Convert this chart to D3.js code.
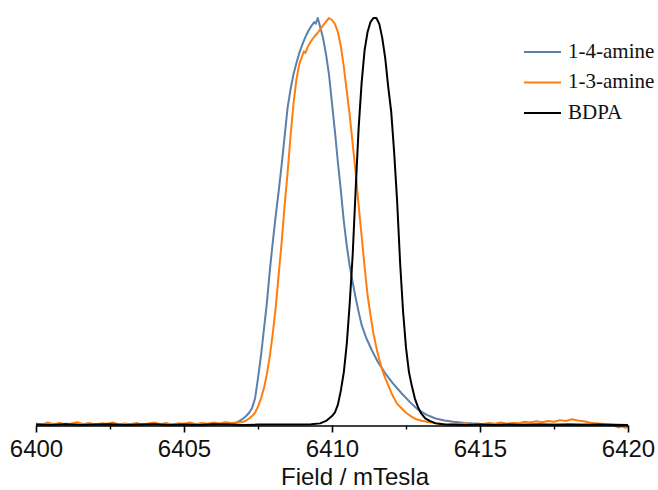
<!DOCTYPE html>
<html>
<head>
<meta charset="utf-8">
<script src="https://cdn.jsdelivr.net/npm/d3@7"></script>
<style>
  html, body { margin: 0; padding: 0; background: #fff; }
  svg { display: block; }
</style>
</head>
<body>
<svg id="chart" width="658" height="490"></svg>
<script>
// ---------------- DATA ----------------
const seriesNames = ["1-4-amine", "1-3-amine", "BDPA"];
const majorTicks = [6400, 6405, 6410, 6415, 6420];
const minorTicks = [6402.5, 6407.5, 6412.5, 6417.5];
const xTitle = "Field / mTesla";

// 1-4-amine : [field (mT), normalised intensity]
const amine14 = [
  [6400.0,0.002],[6400.5,0.001],[6401.0,0.003],[6401.5,0.001],[6402.0,0.002],[6402.5,0.000],
  [6403.0,0.002],[6403.5,0.001],[6404.0,0.003],[6404.5,0.001],[6405.0,0.002],[6405.5,0.001],
  [6406.0,0.002],[6406.5,0.003],[6406.7,0.004],[6406.85,0.009],[6407.0,0.016],[6407.1,0.022],
  [6407.2,0.030],[6407.3,0.042],[6407.4,0.065],[6407.5,0.115],[6407.6,0.170],[6407.7,0.235],
  [6407.8,0.300],[6407.9,0.380],[6408.0,0.450],[6408.1,0.515],[6408.2,0.575],[6408.3,0.640],
  [6408.4,0.710],[6408.5,0.780],[6408.6,0.825],[6408.7,0.862],[6408.8,0.890],[6408.9,0.915],
  [6409.0,0.935],[6409.1,0.953],[6409.2,0.968],[6409.3,0.980],[6409.4,0.990],[6409.45,0.986],
  [6409.52,1.000],[6409.6,0.978],[6409.7,0.950],[6409.8,0.910],[6409.9,0.860],[6410.0,0.790],
  [6410.1,0.720],[6410.2,0.645],[6410.3,0.575],[6410.4,0.500],[6410.5,0.440],[6410.6,0.390],
  [6410.7,0.350],[6410.8,0.312],[6410.9,0.278],[6411.0,0.246],[6411.15,0.215],[6411.35,0.183],
  [6411.55,0.155],[6411.8,0.127],[6412.05,0.103],[6412.35,0.078],[6412.65,0.055],[6412.92,0.037],
  [6413.2,0.025],[6413.5,0.016],[6413.8,0.011],[6414.1,0.008],[6414.5,0.005],[6414.9,0.003],
  [6415.3,0.002],[6415.8,0.001],[6416.5,0.002],[6417.0,0.001],[6417.5,0.002],[6418.0,0.001],
  [6418.5,0.002],[6419.0,0.001],[6419.5,0.001],[6420.0,0.000]
];

// 1-3-amine : [field (mT), normalised intensity]
const amine13 = [
  [6400.0,0.004],[6400.2,0.001],[6400.4,0.006],[6400.6,0.002],[6400.8,0.005],[6401.0,0.000],
  [6401.2,0.004],[6401.4,0.007],[6401.6,0.002],[6401.8,0.005],[6402.0,0.001],[6402.2,0.004],
  [6402.4,0.003],[6402.6,0.006],[6402.8,0.001],[6403.0,0.004],[6403.2,0.002],[6403.4,0.005],
  [6403.6,0.000],[6403.8,0.004],[6404.0,0.006],[6404.2,0.002],[6404.4,0.005],[6404.6,0.001],
  [6404.8,0.004],[6405.0,0.003],[6405.2,0.006],[6405.4,0.002],[6405.6,0.005],[6405.8,0.003],
  [6406.0,0.006],[6406.2,0.004],[6406.4,0.007],[6406.6,0.005],[6406.8,0.006],[6407.0,0.008],
  [6407.1,0.011],[6407.2,0.016],[6407.3,0.022],[6407.4,0.030],[6407.5,0.045],[6407.6,0.065],
  [6407.7,0.090],[6407.8,0.125],[6407.9,0.170],[6408.0,0.225],[6408.1,0.290],[6408.2,0.370],
  [6408.3,0.450],[6408.4,0.540],[6408.5,0.620],[6408.6,0.710],[6408.7,0.790],[6408.8,0.850],
  [6408.9,0.888],[6409.0,0.908],[6409.05,0.918],[6409.1,0.914],[6409.2,0.932],[6409.3,0.944],
  [6409.4,0.954],[6409.5,0.962],[6409.6,0.972],[6409.7,0.982],[6409.8,0.991],[6409.9,1.000],
  [6410.0,0.995],[6410.1,0.985],[6410.2,0.965],[6410.3,0.930],[6410.4,0.880],[6410.5,0.820],
  [6410.6,0.760],[6410.7,0.690],[6410.8,0.620],[6410.9,0.540],[6411.0,0.465],[6411.1,0.390],
  [6411.2,0.320],[6411.3,0.270],[6411.4,0.225],[6411.5,0.190],[6411.6,0.160],[6411.7,0.135],
  [6411.8,0.115],[6411.9,0.098],[6412.0,0.080],[6412.1,0.065],[6412.2,0.052],[6412.35,0.041],
  [6412.5,0.030],[6412.7,0.020],[6412.85,0.014],[6413.0,0.011],[6413.2,0.008],[6413.5,0.005],
  [6413.7,0.003],[6413.9,0.001],[6414.1,0.004],[6414.3,0.002],[6414.5,0.005],[6414.7,0.001],
  [6414.9,0.004],[6415.1,0.002],[6415.3,0.005],[6415.5,0.003],[6415.7,0.006],[6415.9,0.003],
  [6416.1,0.005],[6416.3,0.004],[6416.5,0.008],[6416.7,0.006],[6416.9,0.009],[6417.1,0.007],
  [6417.3,0.010],[6417.5,0.008],[6417.7,0.012],[6417.9,0.010],[6418.1,0.014],[6418.3,0.011],
  [6418.5,0.009],[6418.7,0.006],[6418.9,0.004],[6419.1,0.003],[6419.3,0.002],[6419.5,0.001],
  [6419.6,-0.004],[6419.7,-0.006],[6419.8,-0.003],[6419.9,-0.007],[6420.0,-0.005]
];

// BDPA : [field (mT), normalised intensity]
const bdpa = [
  [6400.0,0.001],[6400.5,0.000],[6401.0,0.002],[6401.5,0.000],[6402.0,0.001],[6402.5,0.002],
  [6403.0,0.000],[6403.5,0.001],[6404.0,0.002],[6404.5,0.000],[6405.0,0.001],[6405.5,0.000],
  [6406.0,0.002],[6406.5,0.001],[6407.0,0.000],[6407.5,0.001],[6408.0,0.001],[6408.5,0.001],
  [6409.0,0.001],[6409.3,0.002],[6409.6,0.004],[6409.8,0.010],[6410.0,0.022],[6410.1,0.031],
  [6410.2,0.050],[6410.3,0.085],[6410.4,0.130],[6410.5,0.200],[6410.6,0.300],[6410.7,0.420],
  [6410.8,0.580],[6410.9,0.730],[6411.0,0.840],[6411.1,0.920],[6411.2,0.965],[6411.3,0.990],
  [6411.4,1.000],[6411.5,1.000],[6411.6,0.985],[6411.7,0.950],[6411.8,0.900],[6411.9,0.830],
  [6412.0,0.770],[6412.1,0.670],[6412.2,0.550],[6412.3,0.400],[6412.4,0.280],[6412.5,0.190],
  [6412.6,0.130],[6412.7,0.095],[6412.8,0.065],[6412.9,0.045],[6413.0,0.030],[6413.15,0.016],
  [6413.3,0.010],[6413.5,0.004],[6413.8,0.001],[6414.5,0.000],[6415.0,0.001],[6415.5,0.000],
  [6416.0,0.001],[6416.5,0.000],[6417.0,0.001],[6417.5,0.000],[6418.0,0.001],[6418.5,0.000],
  [6419.0,0.001],[6419.5,0.000],[6420.0,0.000]
];

const seriesData = [amine14, amine13, bdpa];
const seriesColors = ["#5b80ad", "#ff7f0e", "#000000"];

// ---------------- DRAWING ----------------
const svg = d3.select("#chart");
const width = 658, height = 490, axisY = 425.5;

const x = d3.scaleLinear().domain([6400, 6420]).range([36, 628]);
const y = d3.scaleLinear().domain([0, 1]).range([425, 18]);

svg.append("rect").attr("width", width).attr("height", height).attr("fill", "#fff");

const line = d3.line().x(d => x(d[0])).y(d => y(d[1]));

svg.append("g").selectAll("path")
  .data(seriesData)
  .join("path")
  .attr("d", d => line(d))
  .attr("fill", "none")
  .attr("stroke", (d, i) => seriesColors[i])
  .attr("stroke-width", 2)
  .attr("stroke-linejoin", "round");

// Axis (major)
const axisG = svg.append("g")
  .attr("transform", `translate(0,${axisY})`)
  .call(d3.axisBottom(x).tickValues(majorTicks).tickSize(7).tickSizeOuter(0).tickFormat(d3.format("d")));
axisG.select(".domain").attr("stroke", "#000").attr("stroke-width", 1.6);
axisG.selectAll(".tick line").attr("stroke", "#000").attr("stroke-width", 1.6);
axisG.selectAll(".tick text")
  .attr("y", 31.5).attr("dy", 0)
  .attr("fill", "#111")
  .style("font-family", "'Liberation Sans', Arial, sans-serif")
  .style("font-size", "24px");

// Axis (minor)
const minorG = svg.append("g")
  .attr("transform", `translate(0,${axisY})`)
  .call(d3.axisBottom(x).tickValues(minorTicks).tickSize(4).tickFormat(""));
minorG.select(".domain").remove();
minorG.selectAll(".tick line").attr("stroke", "#000").attr("stroke-width", 1.4);

// Axis title
svg.append("text")
  .attr("x", 355).attr("y", 485)
  .attr("text-anchor", "middle")
  .attr("fill", "#111")
  .style("font-family", "'Liberation Sans', Arial, sans-serif")
  .style("font-size", "24px")
  .text(xTitle);

// Legend
const legend = svg.append("g");
const lg = legend.selectAll("g")
  .data(seriesNames)
  .join("g")
  .attr("transform", (d, i) => `translate(0,${52 + i * 30.5})`);
lg.append("line")
  .attr("x1", 524).attr("x2", 561)
  .attr("stroke", (d, i) => seriesColors[i])
  .attr("stroke-width", 2);
lg.append("text")
  .attr("x", 568).attr("y", 5.5)
  .attr("fill", "#111")
  .style("font-family", "'Liberation Serif', 'Times New Roman', serif")
  .style("font-size", "21px")
  .text(d => d);
</script>
</body>
</html>
